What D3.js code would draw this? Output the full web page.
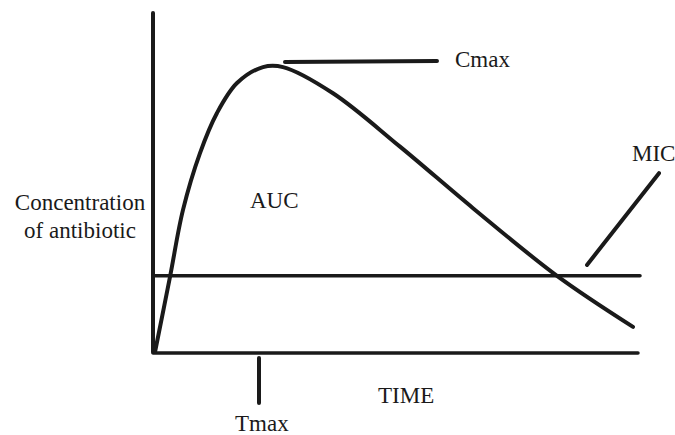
<!DOCTYPE html>
<html>
<head>
<meta charset="utf-8">
<script src="https://cdn.jsdelivr.net/npm/d3@7"></script>
<style>
  html, body { margin: 0; padding: 0; background: #fff; }
  svg { display: block; }
</style>
</head>
<body>
<svg id="chart" width="675" height="435"></svg>
<script>
// Time (h) and concentration (% of axis)
const timePoints = [0, 0.75, 1.4, 2.25, 3.1, 4.1, 5.4, 6.4, 8.9, 12.25, 15.9, 20.1, 23.9];
const concentration = [0, 22.1, 41.8, 58.5, 70.3, 79.1, 83.8, 83.8, 76.1, 60.4, 42.3, 22.4, 7.4];
const micLevel = 22.4;
const micRange = [-0.1, 24.25];
const tmax = 5.1;
const cmaxPointer = { t: [6.5, 14.1], c: [85.3, 85.6] };
const micPointer = { t: [21.6, 25.2], c: [25.6, 52.6] };
const xAxisExtent = [-0.1, 24.1];
const yAxisExtent = [0, 99.7];

const svg = d3.select("#chart");
const x = d3.scaleLinear().domain([0, 24]).range([155, 635]);
const y = d3.scaleLinear().domain([0, 100]).range([352, 12]);

const ink = "#1a1a1a";
const serif = "'Liberation Serif', 'Times New Roman', Times, serif";
const line = (x1, y1, x2, y2, w) => svg.append("line")
  .attr("x1", x1).attr("y1", y1).attr("x2", x2).attr("y2", y2)
  .attr("stroke", ink).attr("stroke-width", w).attr("stroke-linecap", "round");

// axes
line(x(0) - 2, y(yAxisExtent[0]), x(0) - 2, y(yAxisExtent[1]), 4);
line(x(xAxisExtent[0]), y(0) + 1, x(xAxisExtent[1]) + 1, y(0) + 1, 3.5);

// MIC line
line(x(micRange[0]), y(micLevel), x(micRange[1]), y(micLevel), 3.5);

// curve
const data = timePoints.map((t, i) => [t, concentration[i]]);
svg.append("path")
  .datum(data)
  .attr("fill", "none")
  .attr("stroke", ink)
  .attr("stroke-width", 4)
  .attr("stroke-linecap", "round")
  .attr("d", d3.line().x(d => x(d[0])).y(d => y(d[1])).curve(d3.curveCatmullRom.alpha(0.5)));

// pointers
line(x(cmaxPointer.t[0]), y(cmaxPointer.c[0]), x(cmaxPointer.t[1]), y(cmaxPointer.c[1]), 4);
line(x(micPointer.t[0]), y(micPointer.c[0]), x(micPointer.t[1]), y(micPointer.c[1]), 4);
line(x(tmax) + 2, y(0) + 6, x(tmax) + 2, y(0) + 51, 4);

// labels
const label = (txt, tx, ty, anchor) => svg.append("text")
  .attr("x", tx).attr("y", ty).attr("text-anchor", anchor || "start")
  .attr("font-family", serif).attr("fill", ink)
  .attr("font-size", 23).text(txt);

label("Cmax", 455, 67);
label("MIC", 632, 161);
label("AUC", 250, 208);
label("TIME", 378, 403);
label("Tmax", 235, 431);
label("Concentration", 80, 210, "middle");
label("of antibiotic", 80, 238, "middle");
</script>
</body>
</html>
